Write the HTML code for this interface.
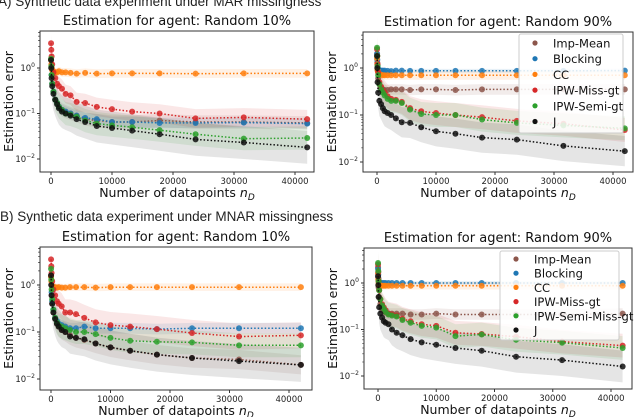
<!DOCTYPE html>
<html><head><meta charset="utf-8">
<style>
html,body{margin:0;padding:0;background:#fff;}
svg{display:block;font-family:"DejaVu Sans","Liberation Sans",sans-serif;}
</style></head>
<body>
<svg id="fig" width="640" height="417" viewBox="0 0 640 417">
<text x="-2" y="6" font-size="13.5" font-family="Liberation Sans, sans-serif" fill="#222">A) Synthetic data experiment under MAR missingness</text>
<text x="0" y="221" font-size="13.5" font-family="Liberation Sans, sans-serif" fill="#222">B) Synthetic data experiment under MNAR missingness</text>
</svg>
<script>
const xs = [10,50,100,200,400,700,1000,1300,1800,2400,3200,4200,5600,7500,10000,13300,17800,23700,31600,42000];
const xTicks = [0,10000,20000,30000,40000];
const yTicks = [0,-1,-2];
const colors = {imp:'#8c564b',blk:'#1f77b4',cc:'#ff7f0e',red:'#d62728',grn:'#2ca02c',j:'#111111'};

const aL_cc  = [1.5,1.2,1.0,0.9,0.85,0.8,0.8,0.85,0.8,0.8,0.78,0.75,0.78,0.75,0.76,0.76,0.76,0.75,0.76,0.76];
const aL_red = [3.5,2.5,1.8,1.2,0.8,0.6,0.45,0.4,0.35,0.27,0.25,0.18,0.17,0.14,0.125,0.11,0.1,0.078,0.082,0.075];
const aL_blk = [1.5,1,0.7,0.45,0.3,0.2,0.17,0.14,0.12,0.11,0.1,0.09,0.08,0.075,0.065,0.065,0.062,0.062,0.063,0.06];
const aL_imp = [1.5,1,0.7,0.45,0.3,0.2,0.17,0.14,0.12,0.11,0.1,0.09,0.075,0.07,0.065,0.065,0.07,0.065,0.065,0.062];
const aL_grn = [1.6,1.1,0.7,0.45,0.3,0.2,0.17,0.14,0.12,0.1,0.095,0.085,0.07,0.06,0.055,0.05,0.043,0.035,0.028,0.029];
const aL_j   = [1.5,1.0,0.6,0.4,0.27,0.2,0.16,0.13,0.11,0.1,0.09,0.075,0.065,0.053,0.048,0.042,0.035,0.027,0.023,0.018];

const aR_blk = [2.0,1.5,1.1,0.95,0.9,0.88,0.88,0.88,0.87,0.86,0.88,0.88,0.87,0.87,0.87,0.87,0.87,0.87,0.87,0.88];
const aR_cc  = [1.6,1.2,0.9,0.8,0.75,0.72,0.7,0.7,0.7,0.7,0.7,0.7,0.7,0.7,0.7,0.7,0.7,0.7,0.7,0.7];
const aR_imp = [2.0,1.3,0.9,0.6,0.45,0.38,0.35,0.34,0.34,0.35,0.35,0.35,0.34,0.35,0.35,0.34,0.35,0.35,0.35,0.35];
const aR_red = [2.5,1.8,1.2,0.8,0.5,0.4,0.33,0.3,0.25,0.22,0.21,0.19,0.14,0.12,0.11,0.1,0.09,0.075,0.065,0.048];
const aR_grn = [2.7,1.8,1.1,0.7,0.45,0.35,0.3,0.26,0.22,0.2,0.2,0.18,0.13,0.105,0.1,0.1,0.08,0.068,0.06,0.052];
const aR_j   = [1.8,1.0,0.5,0.3,0.2,0.17,0.14,0.12,0.11,0.1,0.085,0.07,0.068,0.055,0.045,0.04,0.033,0.03,0.022,0.017];

const bL_cc  = [1.5,1.2,1.0,0.95,0.9,0.9,0.88,0.9,0.88,0.88,0.9,0.9,0.9,0.88,0.9,0.9,0.9,0.9,0.9,0.9];
const bL_red = [3.5,2.5,1.8,1.2,0.8,0.6,0.45,0.4,0.35,0.26,0.26,0.24,0.2,0.16,0.14,0.13,0.115,0.095,0.08,0.085];
const bL_blk = [1.5,1,0.7,0.45,0.3,0.2,0.17,0.15,0.14,0.13,0.12,0.12,0.13,0.12,0.12,0.12,0.115,0.12,0.12,0.12];
const bL_grn = [2.2,1.3,0.8,0.5,0.3,0.2,0.16,0.14,0.13,0.12,0.11,0.1,0.1,0.09,0.075,0.065,0.062,0.06,0.052,0.052];
const bL_imp = [1.6,1.0,0.6,0.4,0.26,0.19,0.15,0.13,0.11,0.1,0.085,0.075,0.068,0.057,0.047,0.04,0.033,0.028,0.026,0.02];
const bL_j   = [1.6,1.0,0.6,0.4,0.26,0.19,0.15,0.13,0.11,0.1,0.08,0.075,0.07,0.057,0.047,0.04,0.033,0.028,0.024,0.02];

const bR_blk = [2.0,1.5,1.2,1.05,1.0,1.0,1.0,1.0,1.0,1.0,1.0,1.0,1.0,1.0,1.0,1.0,1.0,1.0,1.0,1.0];
const bR_cc  = [1.6,1.2,1.0,0.9,0.88,0.87,0.87,0.87,0.87,0.87,0.87,0.87,0.87,0.87,0.87,0.87,0.87,0.87,0.87,0.87];
const bR_imp = [2.2,1.3,0.8,0.5,0.35,0.28,0.25,0.23,0.22,0.22,0.22,0.22,0.21,0.21,0.22,0.21,0.21,0.21,0.21,0.22];
const bR_red = [2.5,1.7,1.1,0.7,0.45,0.35,0.3,0.26,0.22,0.21,0.2,0.17,0.15,0.13,0.12,0.085,0.08,0.07,0.055,0.045];
const bR_grn = [2.7,1.8,1.1,0.7,0.45,0.33,0.28,0.24,0.21,0.2,0.19,0.16,0.14,0.12,0.11,0.072,0.078,0.06,0.052,0.04];
const bR_j   = [1.4,0.9,0.5,0.3,0.22,0.18,0.15,0.14,0.13,0.1,0.085,0.075,0.062,0.053,0.047,0.04,0.035,0.026,0.022,0.016];

const NS='http://www.w3.org/2000/svg';
const svg=document.getElementById('fig');
function mk(tag,attrs,parent){const e=document.createElementNS(NS,tag);for(const k in attrs)e.setAttribute(k,attrs[k]);(parent||svg).appendChild(e);return e;}

function panel(cfg){
  const g=mk('g',{});
  
  
  const sx=v=>cfg.x0+(v/40000)*(cfg.x40-cfg.x0);
  const sy=v=>cfg.y0+(-Math.log10(v))*cfg.dec;
  cfg.series.forEach(s=>{
    let up='',lo='';
    s.v.forEach((v,i)=>{up+=(i?'L':'M')+sx(xs[i]).toFixed(1)+','+sy(v*s.k).toFixed(1);});
    for(let i=s.v.length-1;i>=0;i--){lo+='L'+sx(xs[i]).toFixed(1)+','+sy(s.v[i]/s.k).toFixed(1);}
    const b=mk('path',{d:up+lo+'Z',fill:s.c,'fill-opacity':0.11,stroke:'none'},g);
    
    
  });
  cfg.series.forEach(s=>{
    const pts=s.v.map((v,i)=>sx(xs[i]).toFixed(1)+','+sy(v).toFixed(1)).join(' ');
    const l=mk('polyline',{points:pts,fill:'none',stroke:s.c,'stroke-width':1.5,'stroke-dasharray':'1.5,2'},g);
    
    
    s.v.forEach((v,i)=>{
      const m=mk('circle',{cx:sx(xs[i]),cy:sy(v),r:3,fill:s.c,'fill-opacity':0.85},g);
      
      
    });
  });
  const fr=mk('rect',{x:cfg.L,y:cfg.T,width:cfg.R-cfg.L,height:cfg.B-cfg.T,fill:'none',stroke:'#333','stroke-width':1},g);
  
  
  xTicks.forEach(t=>{
    const x=sx(t);
    mk('line',{x1:x,y1:cfg.B,x2:x,y2:cfg.B+3,stroke:'#333'},g);
    const tx=mk('text',{x:x,y:cfg.B+12,'font-size':8.5,'text-anchor':'middle',fill:'#222'},g);
    tx.textContent=t;
    
    
  });
  yTicks.forEach(t=>{
    const y=cfg.y0-t*cfg.dec;
    mk('line',{x1:cfg.L-3,y1:y,x2:cfg.L,y2:y,stroke:'#333'},g);
    for(let k=2;k<10;k++){const yy=y-Math.log10(k)*cfg.dec;if(yy>cfg.T&&yy<cfg.B)mk('line',{x1:cfg.L-1.8,y1:yy,x2:cfg.L,y2:yy,stroke:'#333','stroke-width':0.6},g);}
    const tx=mk('text',{x:cfg.L-5,y:y+3,'font-size':8.5,'text-anchor':'end',fill:'#222'},g);
    tx.innerHTML='10<tspan dy="-4" font-size="6">'+(t<0?'\u2212'+(-t):t)+'</tspan>';
    
    
  });
  for(let k=2;k<10;k++){const yy=cfg.y0-Math.log10(k)*cfg.dec;if(yy>cfg.T)mk('line',{x1:cfg.L-1.8,y1:yy,x2:cfg.L,y2:yy,stroke:'#333','stroke-width':0.6},g);}
  const ti=mk('text',{x:(cfg.L+cfg.R)/2,y:cfg.T-6,'font-size':13,'text-anchor':'middle',fill:'#111'},g);
  ti.textContent=cfg.title;
  
  
  const xl=mk('text',{x:(cfg.L+cfg.R)/2,y:cfg.B+25,'font-size':12.5,'text-anchor':'middle',fill:'#111'},g);
  xl.innerHTML='Number of datapoints <tspan font-style="italic">n</tspan><tspan font-style="italic" font-size="9" dy="3">D</tspan>';
  
  
  const yl=mk('text',{x:0,y:0,'font-size':12.5,'text-anchor':'middle',fill:'#111',transform:'translate('+(cfg.L-27)+','+((cfg.T+cfg.B)/2)+') rotate(-90)'},g);
  yl.textContent='Estimation error';
  
  
  if(cfg.legend){
    const lg=cfg.legend;
    const lr=mk('rect',{x:lg.x,y:lg.y,width:lg.w,height:lg.h,fill:'#fff','fill-opacity':0.85,stroke:'#ccc',rx:2},g);
    
    
    lg.items.forEach((it,i)=>{
      const yy=lg.first+i*lg.step;
      mk('circle',{cx:lg.x+16,cy:yy,r:2.6,fill:it[1]},g);
      const t=mk('text',{x:lg.x+34,y:yy+4.5,'font-size':11.5,fill:'#111'},g);
      t.textContent=it[0];
      
      
    });
  }
}

const C=colors;
panel({name:'panel-a-random10',L:40,R:314,T:31,B:172,x0:51,x40:295,y0:68,dec:45.5,title:'Estimation for agent: Random 10%',
  series:[{key:'imp-mean',v:aL_imp,c:C.imp,k:1.4},{key:'blocking',v:aL_blk,c:C.blk,k:1.3},{key:'cc',v:aL_cc,c:C.cc,k:1.25},{key:'ipw-miss-gt',v:aL_red,c:C.red,k:1.6},{key:'ipw-semi-gt',v:aL_grn,c:C.grn,k:1.8},{key:'j',v:aL_j,c:C.j,k:2.3}]});
panel({name:'panel-a-random90',L:363,R:633,T:32,B:172,x0:377,x40:613,y0:68,dec:47,title:'Estimation for agent: Random 90%',
  series:[{key:'imp-mean',v:aR_imp,c:C.imp,k:1.3},{key:'blocking',v:aR_blk,c:C.blk,k:1.1},{key:'cc',v:aR_cc,c:C.cc,k:1.25},{key:'ipw-miss-gt',v:aR_red,c:C.red,k:1.8},{key:'ipw-semi-gt',v:aR_grn,c:C.grn,k:1.8},{key:'j',v:aR_j,c:C.j,k:2.1}],
  legend:{x:519,y:34,w:104,h:99,first:43,step:15.7,items:[['Imp-Mean',C.imp],['Blocking',C.blk],['CC',C.cc],['IPW-Miss-gt',C.red],['IPW-Semi-gt',C.grn],['J',C.j]]}});
panel({name:'panel-b-random10',L:40,R:312,T:247,B:390,x0:51,x40:289,y0:285,dec:47,title:'Estimation for agent: Random 10%',
  series:[{key:'imp-mean',v:bL_imp,c:C.imp,k:1.6},{key:'blocking',v:bL_blk,c:C.blk,k:1.3},{key:'cc',v:bL_cc,c:C.cc,k:1.2},{key:'ipw-miss-gt',v:bL_red,c:C.red,k:1.9},{key:'ipw-semi-gt',v:bL_grn,c:C.grn,k:1.8},{key:'j',v:bL_j,c:C.j,k:2.3}]});
panel({name:'panel-b-random90',L:364,R:632,T:248,B:389,x0:378,x40:611,y0:283,dec:46.5,title:'Estimation for agent: Random 90%',
  series:[{key:'imp-mean',v:bR_imp,c:C.imp,k:1.3},{key:'blocking',v:bR_blk,c:C.blk,k:1.1},{key:'cc',v:bR_cc,c:C.cc,k:1.2},{key:'ipw-miss-gt',v:bR_red,c:C.red,k:1.8},{key:'ipw-semi-gt',v:bR_grn,c:C.grn,k:1.8},{key:'j',v:bR_j,c:C.j,k:2.2}],
  legend:{x:500,y:251,w:119,h:89,first:259,step:14.2,items:[['Imp-Mean',C.imp],['Blocking',C.blk],['CC',C.cc],['IPW-Miss-gt',C.red],['IPW-Semi-Miss-gt',C.grn],['J',C.j]]}});
</script>
</body></html>
